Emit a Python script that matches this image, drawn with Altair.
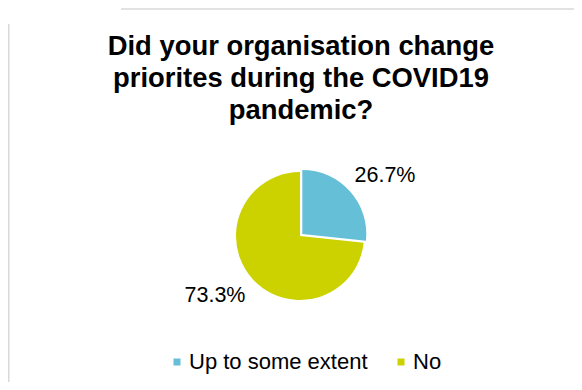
import altair as alt
import pandas as pd

CATEGORIES = ["Up to some extent", "No"]
SHARES = [26.7, 73.3]
ORDER = [0, 1]
COLORS = ["#65BFD7", "#CCD200"]
TITLE_LINES = ["Did your organisation change", "priorites during the COVID19", "pandemic?"]

df = pd.DataFrame({"answer": CATEGORIES, "share": SHARES, "order": ORDER})

W, H = 566, 374
CX, CY = 292, 228
R = 64
FONT = "Liberation Sans"

base = alt.Chart(df).transform_window(
    cum="sum(share)", sort=[alt.SortField("order")]
).transform_calculate(
    start="datum.cum - datum.share",
    mid="datum.cum - datum.share / 2",
    label="format(datum.share, '.1f') + '%'",
)

theta_scale = alt.Scale(domain=[0, 100], range=[0, 6.283185307179586])
color = alt.Color(
    "answer:N",
    scale=alt.Scale(domain=CATEGORIES, range=COLORS),
    legend=alt.Legend(
        orient="none", legendX=158, legendY=343, direction="horizontal",
        title=None, symbolType="square", symbolSize=49, symbolStrokeWidth=0,
        labelFontSize=22, labelFont=FONT, labelColor="#000000", labelOffset=1,
        labelLimit=0, columnPadding=22, padding=0, symbolOpacity=1,
    ),
)

no_arc = base.transform_filter(alt.datum.answer == CATEGORIES[1]).mark_arc(
    outerRadius=R
).encode(
    theta=alt.Theta("start:Q", scale=theta_scale),
    theta2="cum:Q",
    color=color,
    x=alt.value(CX), y=alt.value(CY),
)

some_arc = base.transform_filter(alt.datum.answer == CATEGORIES[0]).mark_arc(
    outerRadius=R
).encode(
    theta=alt.Theta("start:Q", scale=theta_scale),
    theta2="cum:Q",
    color=color,
    x=alt.value(CX + 2.3), y=alt.value(CY - 2.1),
)

labels = base.mark_text(
    radius=104, thetaOffset=0.118, fontSize=21.5, font=FONT, color="#000000",
    align="center", baseline="middle",
).encode(
    theta=alt.Theta("mid:Q", scale=theta_scale),
    text="label:N",
    x=alt.value(CX), y=alt.value(CY),
)

one = alt.Data(values=[{"k": 1}])
title = alt.Chart(one).mark_text(
    text=TITLE_LINES, fontSize=27.4, fontWeight="bold", font=FONT,
    color="#000000", align="center", baseline="alphabetic", lineHeight=32,
).encode(x=alt.value(293), y=alt.value(47))

hline = alt.Chart(one).mark_rule(color="#d9d9d9", strokeWidth=1.5).encode(
    x=alt.value(113), x2=alt.value(W), y=alt.value(1)
)
vline = alt.Chart(one).mark_rule(color="#d9d9d9", strokeWidth=1.5).encode(
    x=alt.value(0.75), y=alt.value(16), y2=alt.value(H)
)

chart = alt.layer(hline, vline, no_arc, some_arc, labels, title).properties(
    width=W, height=H, autosize=alt.AutoSizeParams(type="none"), padding=0,
    background="white",
).configure_view(stroke=None)

chart.save("out.html", embed_options={"renderer": "svg", "actions": False})
